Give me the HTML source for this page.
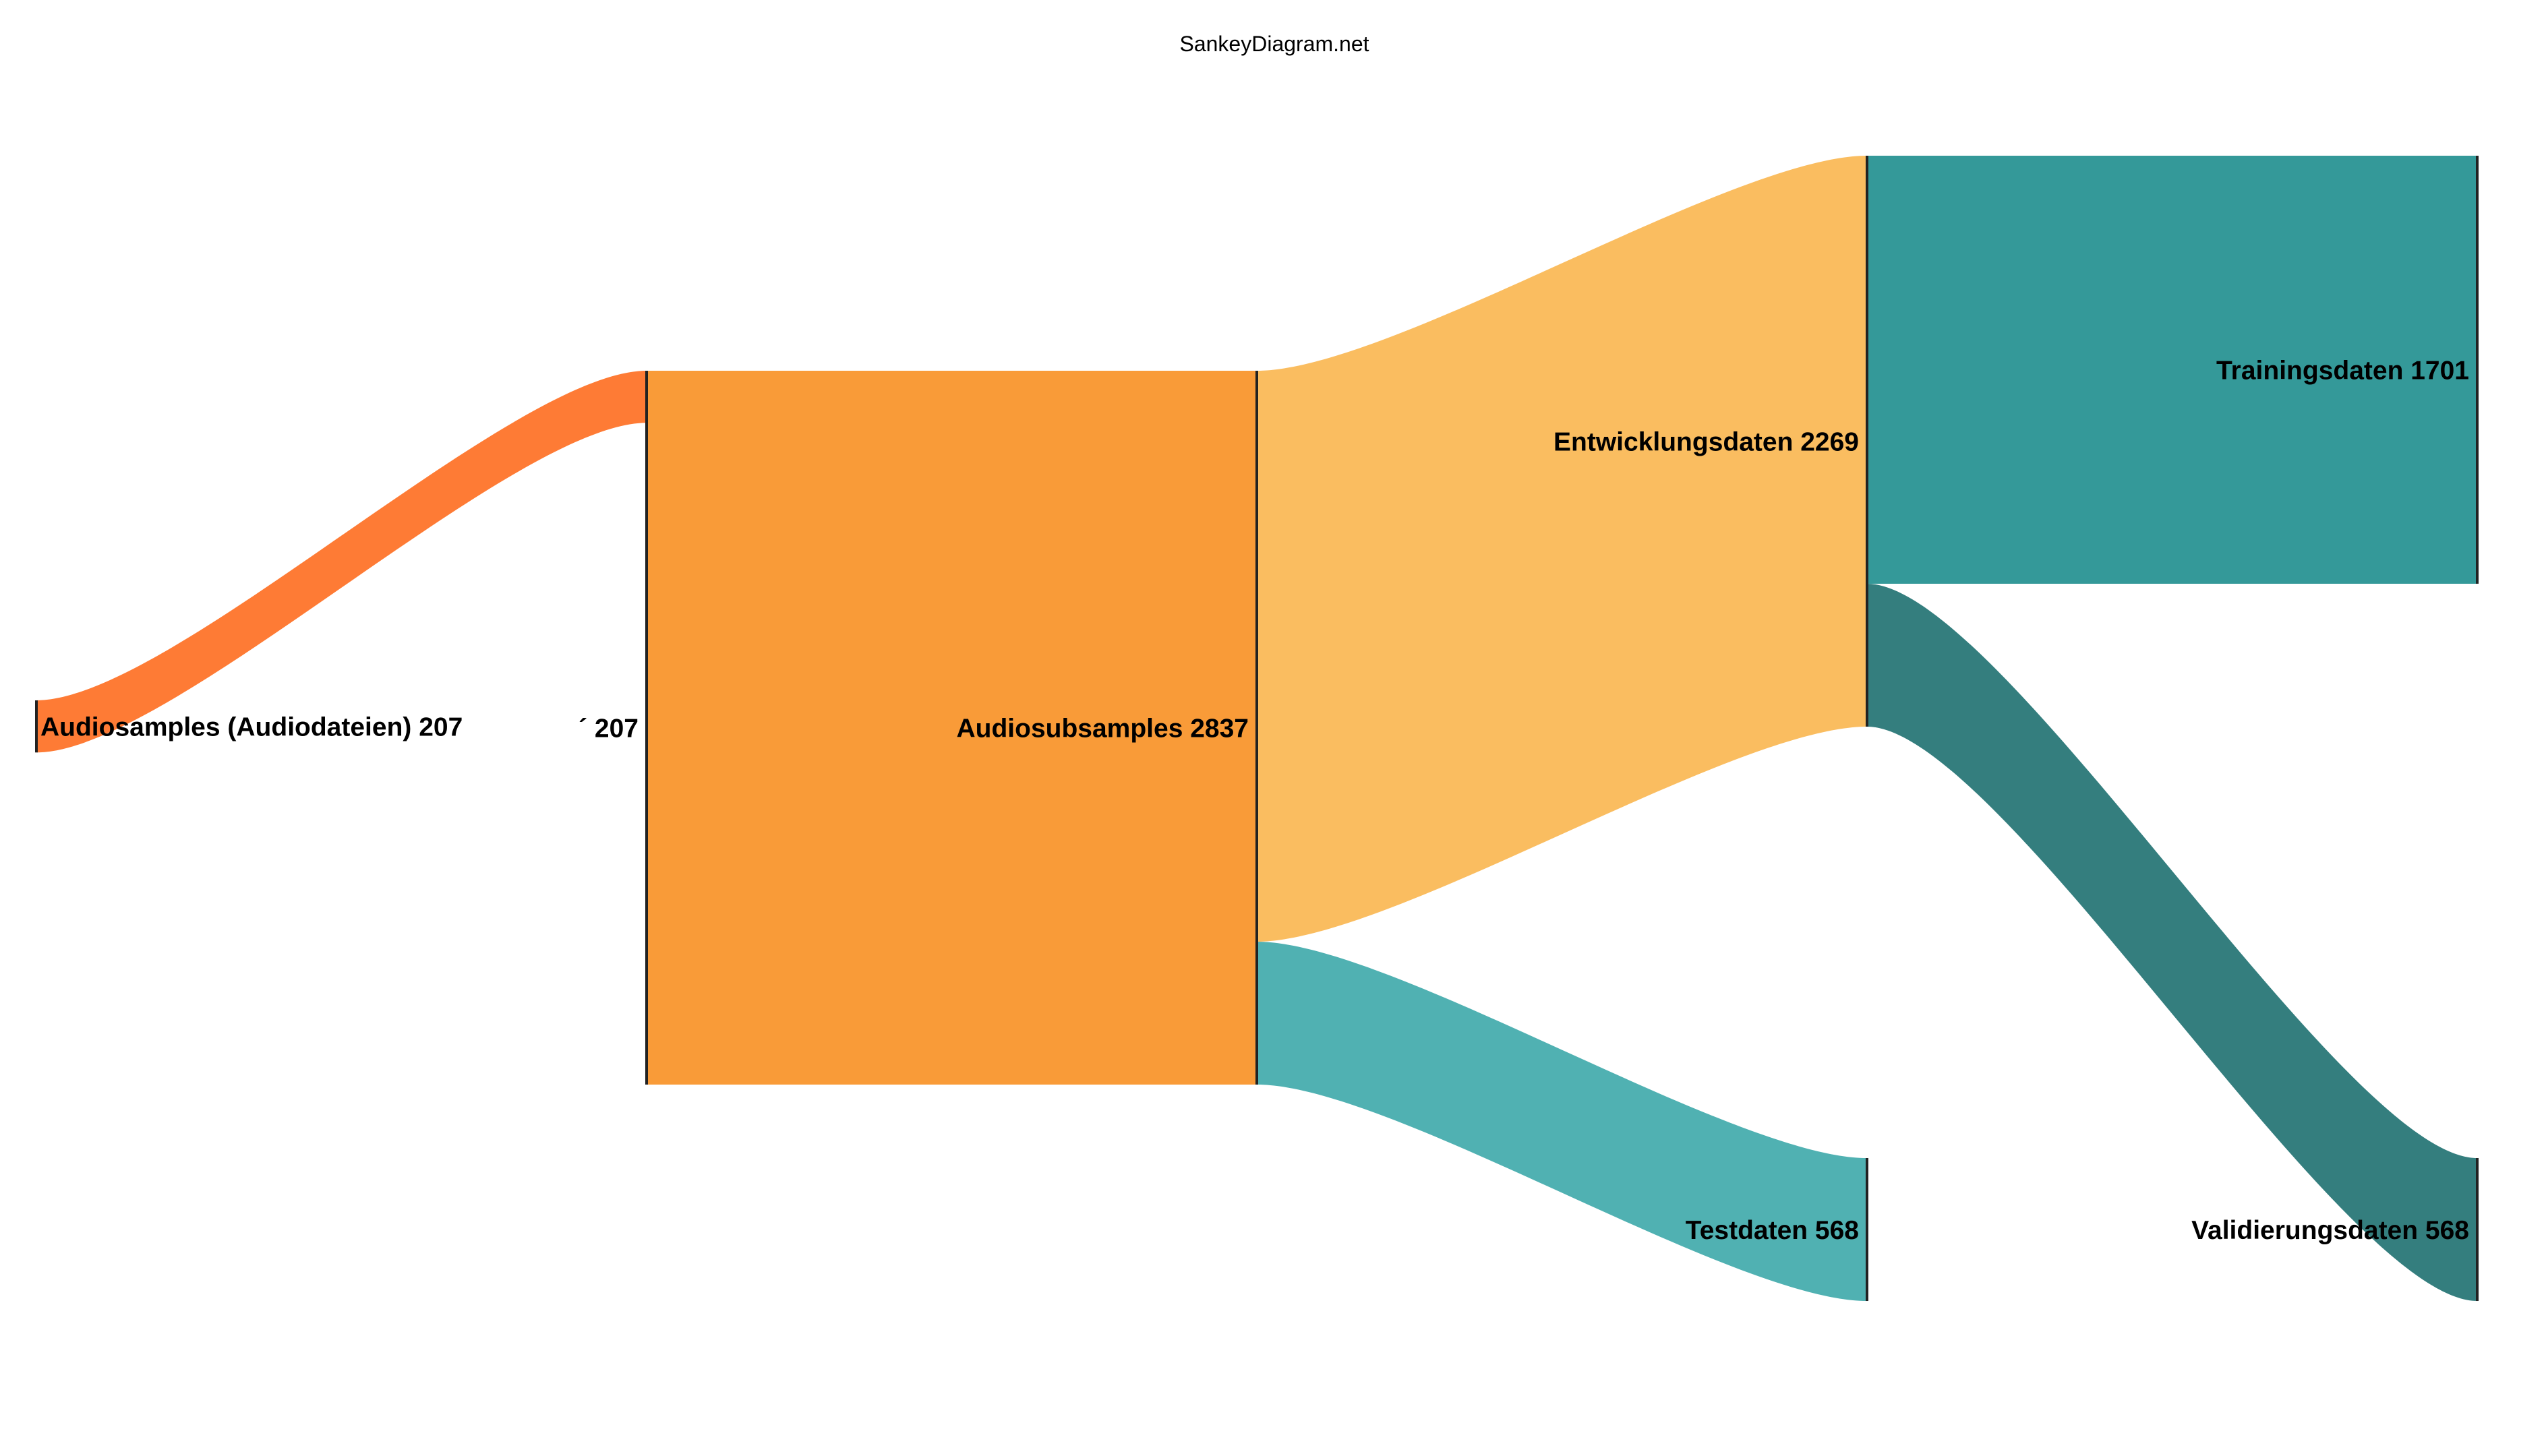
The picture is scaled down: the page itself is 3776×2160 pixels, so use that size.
<!DOCTYPE html>
<html><head><meta charset="utf-8"><style>
html,body{margin:0;padding:0;background:#fff;}
svg{display:block;font-family:"Liberation Sans",Arial,sans-serif;}
</style></head><body>
<svg id="chart" width="3776" height="2160" viewBox="0 0 3776 2160" xmlns="http://www.w3.org/2000/svg">
<text x="1890" y="76" font-size="32" text-anchor="middle" fill="#000">SankeyDiagram.net</text>
<g id="links"></g><g id="nodes"></g><g id="labels"></g>
</svg>
<script>
const nodeNames = ["Audiosamples (Audiodateien)", "´", "Audiosubsamples", "Entwicklungsdaten", "Testdaten", "Trainingsdaten", "Validierungsdaten"];
const nodeValues = [207, 207, 2837, 2269, 568, 1701, 568];
const nodeColumns = [0, 1, 2, 3, 3, 4, 4];
const linkSources = [0, 1, 2, 2, 3, 3];
const linkTargets = [1, 2, 3, 4, 5, 6];
const linkValues = [207, 2837, 2269, 568, 1701, 568];
const linkColors = ["#fe7b35", "#f99b38", "#fabd60", "#50b1b2", "#349999", "#347e7e"];

const NS = "http://www.w3.org/2000/svg";
const colX = c => 54 + c * 905;
const unit = 1059 / 2837;
const hOf = v => v * unit;
const nodeTop = [1039, 550, 550, 231, 1718, 231, 1718];
const nodeH = nodeValues.map((v, i) => {
  const out = linkValues.filter((_, j) => linkSources[j] === i).reduce((a, b) => a + b, 0);
  const inn = linkValues.filter((_, j) => linkTargets[j] === i).reduce((a, b) => a + b, 0);
  return hOf(Math.max(v, out, inn));
});
const outOff = nodeTop.slice(), inOff = nodeTop.slice();
const gl = document.getElementById("links");
for (let j = 0; j < linkValues.length; j++) {
  const s = linkSources[j], t = linkTargets[j], w = hOf(linkValues[j]);
  const x0 = colX(nodeColumns[s]), x1 = colX(nodeColumns[t]);
  const y0 = outOff[s], y1 = inOff[t];
  outOff[s] += w; inOff[t] += w;
  const ca = x0 + (x1 - x0) * 0.22, cb = x1 - (x1 - x0) * 0.22;
  const d = `M${x0},${y0}C${ca},${y0} ${cb},${y1} ${x1},${y1}L${x1},${y1 + w}C${cb},${y1 + w} ${ca},${y0 + w} ${x0},${y0 + w}Z`;
  const p = document.createElementNS(NS, "path");
  p.setAttribute("d", d);
  p.setAttribute("fill", linkColors[j]);
  
  
  gl.appendChild(p);
}
const gn = document.getElementById("nodes"), gt = document.getElementById("labels");
for (let i = 0; i < nodeNames.length; i++) {
  const x = colX(nodeColumns[i]);
  const r = document.createElementNS(NS, "rect");
  r.setAttribute("x", x - 2); r.setAttribute("y", nodeTop[i]);
  r.setAttribute("width", 4); r.setAttribute("height", nodeH[i]);
  r.setAttribute("fill", "#222");
  
  
  gn.appendChild(r);
  const t = document.createElementNS(NS, "text");
  const left = nodeColumns[i] === 0;
  t.setAttribute("x", left ? x + 6 : x - 12);
  t.setAttribute("y", nodeTop[i] + nodeH[i] / 2 + 14);
  t.setAttribute("text-anchor", left ? "start" : "end");
  t.setAttribute("font-size", "39");
  t.setAttribute("font-weight", "bold");
  t.setAttribute("fill", "#000");
  t.textContent = nodeNames[i] + " " + nodeValues[i];
  
  
  gt.appendChild(t);
}
</script>
</body></html>
